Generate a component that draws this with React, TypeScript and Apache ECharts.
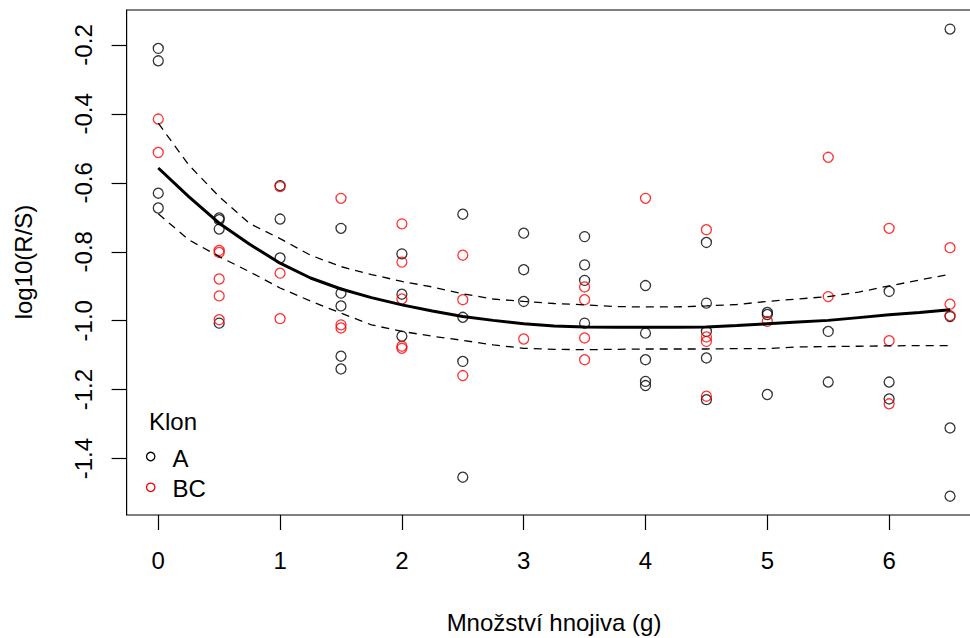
import React, { useEffect, useRef } from "react";
import * as echarts from "echarts";

// Klon A (black)
const doseA = [
  0, 0, 0, 0,
  0.5, 0.5, 0.5, 0.5,
  1, 1, 1,
  1.5, 1.5, 1.5, 1.5, 1.5,
  2, 2, 2,
  2.5, 2.5, 2.5, 2.5,
  3, 3, 3,
  3.5, 3.5, 3.5, 3.5,
  4, 4, 4, 4, 4,
  4.5, 4.5, 4.5, 4.5, 4.5,
  5, 5, 5,
  5.5, 5.5,
  6, 6, 6,
  6.5, 6.5, 6.5, 6.5,
];
const logA = [
  -0.21, -0.246, -0.63, -0.673,
  -0.702, -0.707, -0.734, -1.007,
  -0.608, -0.705, -0.818,
  -0.732, -0.92, -0.957, -1.103, -1.14,
  -0.806, -0.923, -1.045,
  -0.691, -0.99, -1.118, -1.454,
  -0.746, -0.852, -0.944,
  -0.756, -0.838, -0.883, -1.007,
  -0.898, -1.036, -1.113, -1.176, -1.188,
  -0.773, -0.949, -1.031, -1.108, -1.229,
  -0.976, -0.982, -1.214,
  -1.031, -1.178,
  -0.915, -1.178, -1.227,
  -0.154, -0.988, -1.311, -1.509,
];

// Klon BC (red)
const doseBC = [
  0, 0,
  0.5, 0.5, 0.5, 0.5, 0.5,
  1, 1, 1,
  1.5, 1.5, 1.5,
  2, 2, 2, 2, 2,
  2.5, 2.5, 2.5,
  3,
  3.5, 3.5, 3.5, 3.5,
  4,
  4.5, 4.5, 4.5, 4.5,
  5,
  5.5, 5.5,
  6, 6, 6,
  6.5, 6.5, 6.5,
];
const logBC = [
  -0.415, -0.512,
  -0.796, -0.802, -0.879, -0.928, -0.997,
  -0.611, -0.862, -0.994,
  -0.645, -1.012, -1.021,
  -0.719, -0.83, -0.937, -1.074, -1.08,
  -0.81, -0.939, -1.159,
  -1.053,
  -0.902, -0.939, -1.05, -1.113,
  -0.645,
  -0.736, -1.047, -1.06, -1.219,
  -1.002,
  -0.526, -0.93,
  -0.732, -1.058, -1.241,
  -0.788, -0.952, -0.985,
];

// smoothed fit and confidence band
const curveX = [
  0, 0.25, 0.5, 0.75, 1, 1.25, 1.5, 1.75, 2, 2.25, 2.5, 2.75, 3, 3.25, 3.5,
  3.75, 4, 4.25, 4.5, 4.75, 5, 5.25, 5.5, 5.75, 6, 6.25, 6.5,
];
const fitY = [
  -0.557, -0.64, -0.717, -0.778, -0.833, -0.876, -0.908, -0.933, -0.954, -0.972,
  -0.988, -0.999, -1.009, -1.015, -1.018, -1.019, -1.019, -1.019, -1.018, -1.014,
  -1.009, -1.004, -0.999, -0.991, -0.983, -0.976, -0.968,
];
const upperY = [
  -0.427, -0.548, -0.64, -0.718, -0.762, -0.81, -0.843, -0.866, -0.886, -0.902,
  -0.922, -0.937, -0.944, -0.95, -0.954, -0.959, -0.96, -0.96, -0.957, -0.953,
  -0.944, -0.937, -0.93, -0.917, -0.899, -0.882, -0.865,
];
const lowerY = [
  -0.69, -0.765, -0.814, -0.858, -0.905, -0.943, -0.978, -1.012, -1.031, -1.045,
  -1.057, -1.07, -1.08, -1.083, -1.084, -1.083, -1.082, -1.082, -1.082, -1.081,
  -1.081, -1.076, -1.075, -1.074, -1.073, -1.072, -1.072,
];

const xTicks = [0, 1, 2, 3, 4, 5, 6];
const yTicks = [-1.4, -1.2, -1.0, -0.8, -0.6, -0.4, -0.2];

const FONT = "'Liberation Sans', Arial, sans-serif";

export default function App() {
  const ref = useRef<HTMLDivElement>(null);
  useEffect(() => {
    if (!ref.current) return;
    const chart = echarts.init(ref.current, null, { renderer: "svg" });
    const pairs = (xs: number[], ys: number[]) => xs.map((x, i) => [x, ys[i]]);
    const pointStyle = (c: string) => ({
      color: "rgba(0,0,0,0)",
      borderColor: c,
      borderWidth: 1.3,
    });
    chart.setOption({
      animation: false,
      backgroundColor: "#ffffff",
      textStyle: { fontFamily: FONT },
      grid: {
        left: 126.6,
        top: 10,
        right: 3.3,
        bottom: 123,
        show: true,
        borderColor: "#000",
        borderWidth: 1.2,
        backgroundColor: "transparent",
      },
      xAxis: {
        type: "value",
        min: -0.26,
        max: 6.76,
        axisLine: { show: false, onZero: false },
        splitLine: { show: false },
        axisTick: {
          show: true,
          inside: false,
          length: 15,
          customValues: xTicks,
          lineStyle: { color: "#000", width: 1.2 },
        },
        axisLabel: {
          customValues: xTicks,
          fontSize: 24,
          color: "#000",
          fontFamily: FONT,
          margin: 33,
          formatter: (v: number) => String(v),
        },
      },
      yAxis: {
        type: "value",
        min: -1.5636,
        max: -0.0986,
        axisLine: { show: false, onZero: false },
        splitLine: { show: false },
        axisTick: {
          show: true,
          inside: false,
          length: 15,
          customValues: yTicks,
          lineStyle: { color: "#000", width: 1.2 },
        },
        axisLabel: {
          customValues: yTicks,
          fontSize: 24,
          color: "#000",
          fontFamily: FONT,
          rotate: 90,
          margin: 31,
          formatter: (v: number) => v.toFixed(1),
        },
      },
      series: [
        {
          type: "scatter",
          name: "A",
          data: pairs(doseA, logA),
          symbol: "circle",
          symbolSize: 10,
          itemStyle: pointStyle("#000"),
        },
        {
          type: "scatter",
          name: "BC",
          data: pairs(doseBC, logBC),
          symbol: "circle",
          symbolSize: 10,
          itemStyle: pointStyle("#ff0000"),
        },
        {
          type: "line",
          data: pairs(curveX, fitY),
          showSymbol: false,
          symbol: "none",
          lineStyle: { color: "#000", width: 3 },
        },
        {
          type: "line",
          data: pairs(curveX, upperY),
          showSymbol: false,
          symbol: "none",
          lineStyle: { color: "#000", width: 1.3, type: [8, 6] },
        },
        {
          type: "line",
          data: pairs(curveX, lowerY),
          showSymbol: false,
          symbol: "none",
          lineStyle: { color: "#000", width: 1.3, type: [8, 6] },
        },
      ],
      graphic: [
        {
          type: "text",
          x: 23,
          y: 262,
          rotation: Math.PI / 2,
          style: {
            text: "log10(R/S)",
            fontSize: 24,
            fontFamily: FONT,
            fill: "#000",
            textAlign: "center",
            textVerticalAlign: "middle",
          },
        },
        {
          type: "text",
          x: 554,
          y: 622,
          style: {
            text: "Množství hnojiva (g)",
            fontSize: 24,
            fontFamily: FONT,
            fill: "#000",
            textAlign: "center",
            textVerticalAlign: "middle",
          },
        },
        {
          type: "text",
          x: 149,
          y: 421,
          style: {
            text: "Klon",
            fontSize: 24,
            fontFamily: FONT,
            fill: "#000",
            textAlign: "left",
            textVerticalAlign: "middle",
          },
        },
        {
          type: "circle",
          shape: { cx: 150.7, cy: 456.5, r: 4.2 },
          style: { fill: "none", stroke: "#000", lineWidth: 1.3 },
        },
        {
          type: "text",
          x: 172.5,
          y: 458,
          style: {
            text: "A",
            fontSize: 24,
            fontFamily: FONT,
            fill: "#000",
            textAlign: "left",
            textVerticalAlign: "middle",
          },
        },
        {
          type: "circle",
          shape: { cx: 150.7, cy: 487.3, r: 4.2 },
          style: { fill: "none", stroke: "#ff0000", lineWidth: 1.3 },
        },
        {
          type: "text",
          x: 172.5,
          y: 488,
          style: {
            text: "BC",
            fontSize: 24,
            fontFamily: FONT,
            fill: "#000",
            textAlign: "left",
            textVerticalAlign: "middle",
          },
        },
      ],
    });
    return () => chart.dispose();
  }, []);
  return (
    <div
      style={{
        position: "absolute",
        left: 0,
        top: 0,
        width: 970,
        height: 638,
        overflow: "hidden",
        background: "#fff",
      }}
    >
      <div ref={ref} style={{ width: 985, height: 638 }} />
    </div>
  );
}
